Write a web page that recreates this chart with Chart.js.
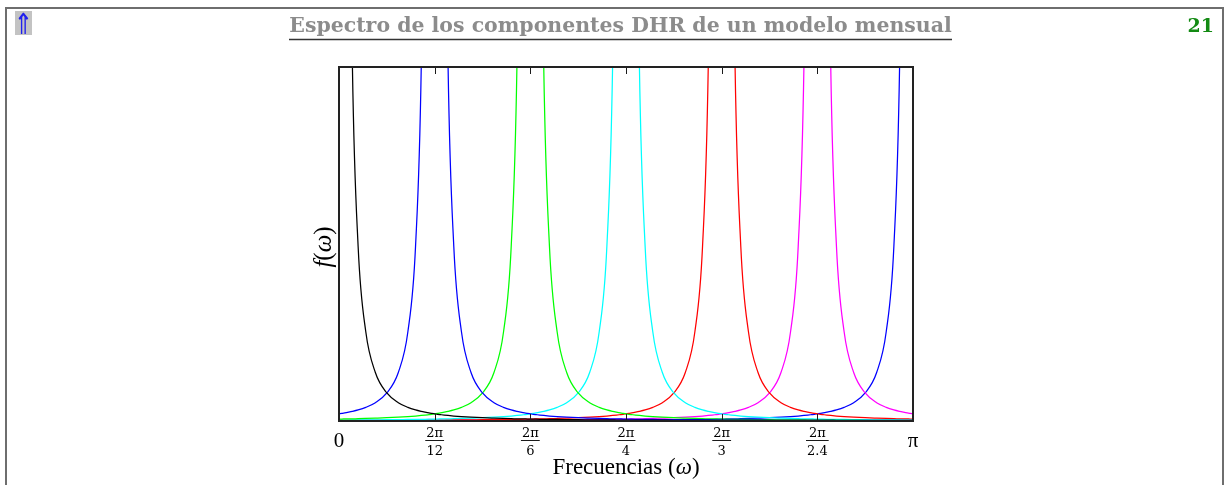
<!DOCTYPE html>
<html>
<head>
<meta charset="utf-8">
<script src="https://cdn.jsdelivr.net/npm/chart.js@4.4.1/dist/chart.umd.min.js"></script>
<style>
  html, body { margin: 0; padding: 0; background: #fff; overflow: hidden; }
  #wrap { position: relative; width: 1226px; height: 485px; }
</style>
</head>
<body>
<div id="wrap"><canvas id="spectro" width="1226" height="485"></canvas></div>
<script>
// frequency in units of 2pi/12 (0 .. 6 = pi)
var freq = [
  0, 0.03, 0.06, 0.1, 0.14, 0.2, 0.28, 0.38, 0.5, 0.62, 0.72, 0.8, 0.86, 0.9, 0.94, 0.97,
  1, 1.03, 1.06, 1.1, 1.14, 1.2, 1.28, 1.38, 1.5, 1.62, 1.72, 1.8, 1.86, 1.9, 1.94, 1.97,
  2, 2.03, 2.06, 2.1, 2.14, 2.2, 2.28, 2.38, 2.5, 2.62, 2.72, 2.8, 2.86, 2.9, 2.94, 2.97,
  3, 3.03, 3.06, 3.1, 3.14, 3.2, 3.28, 3.38, 3.5, 3.62, 3.72, 3.8, 3.86, 3.9, 3.94, 3.97,
  4, 4.03, 4.06, 4.1, 4.14, 4.2, 4.28, 4.38, 4.5, 4.62, 4.72, 4.8, 4.86, 4.9, 4.94, 4.97,
  5, 5.03, 5.06, 5.1, 5.14, 5.2, 5.28, 5.38, 5.5, 5.62, 5.72, 5.8, 5.86, 5.9, 5.94, 5.97,
  6
];

// f(w), % of plot height (values above 100 run off the top)
var trendSpec = [
  5000, 2200, 547, 197, 100.5, 49.3, 25.2, 13.7, 7.92, 5.17, 3.85, 3.12, 2.71, 2.48, 2.27, 2.14,
  2.02, 1.90, 1.80, 1.67, 1.56, 1.41, 1.25, 1.08, 0.92, 0.80, 0.71, 0.65, 0.62, 0.59, 0.57, 0.56,
  0.54, 0.53, 0.51, 0.49, 0.48, 0.46, 0.43, 0.40, 0.36, 0.34, 0.32, 0.30, 0.29, 0.28, 0.28, 0.27,
  0.27, 0.27, 0.26, 0.26, 0.25, 0.24, 0.24, 0.23, 0.21, 0.20, 0.20, 0.19, 0.19, 0.19, 0.18, 0.18,
  0.18, 0.18, 0.18, 0.17, 0.17, 0.17, 0.17, 0.16, 0.16, 0.15, 0.15, 0.15, 0.15, 0.15, 0.15, 0.15,
  0.15, 0.15, 0.15, 0.15, 0.15, 0.14, 0.14, 0.14, 0.14, 0.14, 0.14, 0.14, 0.14, 0.14, 0.14, 0.14,
  0.14
];
var spec12 = [
  2.02, 2.14, 2.27, 2.48, 2.71, 3.12, 3.85, 5.17, 7.92, 13.7, 25.2, 49.3, 100.5, 197, 547, 2200,
  5000, 2200, 547, 197, 100.5, 49.3, 25.2, 13.7, 7.92, 5.17, 3.85, 3.12, 2.71, 2.48, 2.27, 2.14,
  2.02, 1.90, 1.80, 1.67, 1.56, 1.41, 1.25, 1.08, 0.92, 0.80, 0.71, 0.65, 0.62, 0.59, 0.57, 0.56,
  0.54, 0.53, 0.51, 0.49, 0.48, 0.46, 0.43, 0.40, 0.36, 0.34, 0.32, 0.30, 0.29, 0.28, 0.28, 0.27,
  0.27, 0.27, 0.26, 0.26, 0.25, 0.24, 0.24, 0.23, 0.21, 0.20, 0.20, 0.19, 0.19, 0.19, 0.18, 0.18,
  0.18, 0.18, 0.18, 0.17, 0.17, 0.17, 0.17, 0.16, 0.16, 0.15, 0.15, 0.15, 0.15, 0.15, 0.15, 0.15,
  0.15
];
var spec6 = [
  0.54, 0.56, 0.57, 0.59, 0.62, 0.65, 0.71, 0.80, 0.92, 1.08, 1.25, 1.41, 1.56, 1.67, 1.80, 1.90,
  2.02, 2.14, 2.27, 2.48, 2.71, 3.12, 3.85, 5.17, 7.92, 13.7, 25.2, 49.3, 100.5, 197, 547, 2200,
  5000, 2200, 547, 197, 100.5, 49.3, 25.2, 13.7, 7.92, 5.17, 3.85, 3.12, 2.71, 2.48, 2.27, 2.14,
  2.02, 1.90, 1.80, 1.67, 1.56, 1.41, 1.25, 1.08, 0.92, 0.80, 0.71, 0.65, 0.62, 0.59, 0.57, 0.56,
  0.54, 0.53, 0.51, 0.49, 0.48, 0.46, 0.43, 0.40, 0.36, 0.34, 0.32, 0.30, 0.29, 0.28, 0.28, 0.27,
  0.27, 0.27, 0.26, 0.26, 0.25, 0.24, 0.24, 0.23, 0.21, 0.20, 0.20, 0.19, 0.19, 0.19, 0.18, 0.18,
  0.18
];
var spec4 = [
  0.27, 0.27, 0.28, 0.28, 0.29, 0.30, 0.32, 0.34, 0.36, 0.40, 0.43, 0.46, 0.48, 0.49, 0.51, 0.53,
  0.54, 0.56, 0.57, 0.59, 0.62, 0.65, 0.71, 0.80, 0.92, 1.08, 1.25, 1.41, 1.56, 1.67, 1.80, 1.90,
  2.02, 2.14, 2.27, 2.48, 2.71, 3.12, 3.85, 5.17, 7.92, 13.7, 25.2, 49.3, 100.5, 197, 547, 2200,
  5000, 2200, 547, 197, 100.5, 49.3, 25.2, 13.7, 7.92, 5.17, 3.85, 3.12, 2.71, 2.48, 2.27, 2.14,
  2.02, 1.90, 1.80, 1.67, 1.56, 1.41, 1.25, 1.08, 0.92, 0.80, 0.71, 0.65, 0.62, 0.59, 0.57, 0.56,
  0.54, 0.53, 0.51, 0.49, 0.48, 0.46, 0.43, 0.40, 0.36, 0.34, 0.32, 0.30, 0.29, 0.28, 0.28, 0.27,
  0.27
];
var spec3 = [
  0.18, 0.18, 0.18, 0.19, 0.19, 0.19, 0.20, 0.20, 0.21, 0.23, 0.24, 0.24, 0.25, 0.26, 0.26, 0.27,
  0.27, 0.27, 0.28, 0.28, 0.29, 0.30, 0.32, 0.34, 0.36, 0.40, 0.43, 0.46, 0.48, 0.49, 0.51, 0.53,
  0.54, 0.56, 0.57, 0.59, 0.62, 0.65, 0.71, 0.80, 0.92, 1.08, 1.25, 1.41, 1.56, 1.67, 1.80, 1.90,
  2.02, 2.14, 2.27, 2.48, 2.71, 3.12, 3.85, 5.17, 7.92, 13.7, 25.2, 49.3, 100.5, 197, 547, 2200,
  5000, 2200, 547, 197, 100.5, 49.3, 25.2, 13.7, 7.92, 5.17, 3.85, 3.12, 2.71, 2.48, 2.27, 2.14,
  2.02, 1.90, 1.80, 1.67, 1.56, 1.41, 1.25, 1.08, 0.92, 0.80, 0.71, 0.65, 0.62, 0.59, 0.57, 0.56,
  0.54
];
var spec24 = [
  0.15, 0.15, 0.15, 0.15, 0.15, 0.15, 0.15, 0.15, 0.16, 0.16, 0.17, 0.17, 0.17, 0.17, 0.18, 0.18,
  0.18, 0.18, 0.18, 0.19, 0.19, 0.19, 0.20, 0.20, 0.21, 0.23, 0.24, 0.24, 0.25, 0.26, 0.26, 0.27,
  0.27, 0.27, 0.28, 0.28, 0.29, 0.30, 0.32, 0.34, 0.36, 0.40, 0.43, 0.46, 0.48, 0.49, 0.51, 0.53,
  0.54, 0.56, 0.57, 0.59, 0.62, 0.65, 0.71, 0.80, 0.92, 1.08, 1.25, 1.41, 1.56, 1.67, 1.80, 1.90,
  2.02, 2.14, 2.27, 2.48, 2.71, 3.12, 3.85, 5.17, 7.92, 13.7, 25.2, 49.3, 100.5, 197, 547, 2200,
  5000, 2200, 547, 197, 100.5, 49.3, 25.2, 13.7, 7.92, 5.17, 3.85, 3.12, 2.71, 2.48, 2.27, 2.14,
  2.02
];
var spec2 = [
  0.14, 0.14, 0.14, 0.14, 0.14, 0.14, 0.14, 0.14, 0.14, 0.14, 0.14, 0.14, 0.15, 0.15, 0.15, 0.15,
  0.15, 0.15, 0.15, 0.15, 0.15, 0.15, 0.15, 0.15, 0.16, 0.16, 0.17, 0.17, 0.17, 0.17, 0.18, 0.18,
  0.18, 0.18, 0.18, 0.19, 0.19, 0.19, 0.20, 0.20, 0.21, 0.23, 0.24, 0.24, 0.25, 0.26, 0.26, 0.27,
  0.27, 0.27, 0.28, 0.28, 0.29, 0.30, 0.32, 0.34, 0.36, 0.40, 0.43, 0.46, 0.48, 0.49, 0.51, 0.53,
  0.54, 0.56, 0.57, 0.59, 0.62, 0.65, 0.71, 0.80, 0.92, 1.08, 1.25, 1.41, 1.56, 1.67, 1.80, 1.90,
  2.02, 2.14, 2.27, 2.48, 2.71, 3.12, 3.85, 5.17, 7.92, 13.7, 25.2, 49.3, 100.5, 197, 547, 2200,
  5000
];

var tickVals = [0, 1, 2, 3, 4, 5, 6];
var tickNum = ["0", "2\u03c0", "2\u03c0", "2\u03c0", "2\u03c0", "2\u03c0", "\u03c0"];
var tickDen = ["", "12", "6", "4", "3", "2.4", ""];

var series = [
  { name: "tendencia", vals: trendSpec, color: "#000000" },
  { name: "12", vals: spec12, color: "#0000ff" },
  { name: "6", vals: spec6, color: "#00ff00" },
  { name: "4", vals: spec4, color: "#00ffff" },
  { name: "3", vals: spec3, color: "#ff0000" },
  { name: "2.4", vals: spec24, color: "#ff00ff" },
  { name: "2", vals: spec2, color: "#0000ff" }
];

var SERIF = '"Liberation Serif", "DejaVu Serif", serif';
var WIDE = '"DejaVu Serif", "Liberation Serif", serif';

function drawRuns(ctx, runs, cx, y) {
  var total = 0, i;
  for (i = 0; i < runs.length; i++) {
    ctx.font = runs[i][1];
    runs[i].w = ctx.measureText(runs[i][0]).width;
    total += runs[i].w;
  }
  var x = cx - total / 2;
  ctx.textAlign = "left";
  for (i = 0; i < runs.length; i++) {
    ctx.font = runs[i][1];
    ctx.fillText(runs[i][0], x, y);
    x += runs[i].w;
  }
}

var pagePlugin = {
  id: "pagePlugin",
  afterDatasetsDraw: function (chart) {
    var ctx = chart.ctx, a = chart.chartArea, xs = chart.scales.x;
    ctx.save();
    ctx.strokeStyle = "#1a1a1a";
    ctx.lineWidth = 1;
    tickVals.forEach(function (v, i) {
      if (i === 0 || i === tickVals.length - 1) return;
      var x = Math.round(xs.getPixelForValue(v)) + 0.5;
      ctx.beginPath();
      ctx.moveTo(x, a.bottom); ctx.lineTo(x, a.bottom - 7);
      ctx.moveTo(x, a.top); ctx.lineTo(x, a.top + 7);
      ctx.stroke();
    });
    ctx.lineWidth = 2;
    ctx.strokeStyle = "#222";
    ctx.strokeRect(a.left, a.top, a.right - a.left, a.bottom - a.top);
    ctx.restore();
  },
  afterDraw: function (chart) {
    var ctx = chart.ctx, a = chart.chartArea, xs = chart.scales.x;
    ctx.save();

    // page frame
    ctx.strokeStyle = "#6e6e6e";
    ctx.lineWidth = 2;
    ctx.beginPath();
    ctx.moveTo(6, 485); ctx.lineTo(6, 8); ctx.lineTo(1223, 8); ctx.lineTo(1223, 485);
    ctx.stroke();

    // back arrow
    ctx.fillStyle = "#c3c3c3";
    ctx.fillRect(15, 11, 17, 24);
    ctx.fillStyle = "#2020ee";
    ctx.font = '29px "DejaVu Sans", sans-serif';
    ctx.textAlign = "center";
    ctx.textBaseline = "alphabetic";
    ctx.save();
    ctx.translate(23.5, 34);
    ctx.scale(0.8, 1);
    ctx.fillText("\u21d1", 0, 0);
    ctx.restore();

    // title
    var title = "Espectro de los componentes DHR de un modelo mensual";
    ctx.font = "bold 20px " + WIDE;
    var tw = ctx.measureText(title).width;
    var fs = 20 * 663 / tw;
    ctx.font = "bold " + fs.toFixed(2) + "px " + WIDE;
    ctx.fillStyle = "#8c8c8c";
    ctx.textAlign = "center";
    ctx.fillText(title, 620.5, 32);
    ctx.strokeStyle = "#333";
    ctx.lineWidth = 1.5;
    ctx.beginPath();
    ctx.moveTo(289, 39.5); ctx.lineTo(952, 39.5);
    ctx.stroke();

    // page number
    ctx.fillStyle = "#138a13";
    ctx.font = "bold 19px " + WIDE;
    ctx.textAlign = "right";
    ctx.fillText("21", 1214, 32);

    // tick labels
    ctx.fillStyle = "#000";
    ctx.textAlign = "center";
    tickVals.forEach(function (v, i) {
      var x = xs.getPixelForValue(v);
      if (tickDen[i] === "") {
        ctx.font = "21px " + SERIF;
        ctx.fillText(tickNum[i], x, 447);
      } else {
        ctx.font = "13px " + WIDE;
        ctx.fillText(tickNum[i], x, 437);
        var w = Math.max(ctx.measureText(tickNum[i]).width, ctx.measureText(tickDen[i]).width) + 2;
        ctx.fillText(tickDen[i], x, 455);
        ctx.fillRect(x - w / 2, 440, w, 0.9);
      }
    });

    // axis titles
    drawRuns(ctx, [["Frecuencias (", "23px " + SERIF], ["\u03c9", "italic 23px " + SERIF], [")", "23px " + SERIF]],
      (a.left + a.right) / 2, 474);
    ctx.save();
    ctx.translate(331, (a.top + a.bottom) / 2 + 3);
    ctx.rotate(-Math.PI / 2);
    drawRuns(ctx, [["f", "italic 25px " + SERIF], ["(", "25px " + SERIF], ["\u03c9", "italic 25px " + SERIF], [")", "25px " + SERIF]], 0, 0);
    ctx.restore();

    ctx.restore();
  }
};

new Chart(document.getElementById("spectro"), {
  type: "line",
  data: {
    datasets: series.map(function (s) {
      return {
        label: s.name,
        data: freq.map(function (f, i) { return { x: f, y: s.vals[i] }; }),
        borderColor: s.color,
        backgroundColor: s.color,
        borderWidth: 1.25,
        pointRadius: 0,
        fill: false,
        cubicInterpolationMode: "monotone"
      };
    })
  },
  options: {
    responsive: false,
    animation: false,
    devicePixelRatio: 1,
    events: [],
    layout: { padding: { left: 339, right: 313, top: 67, bottom: 64 } },
    plugins: { legend: { display: false }, tooltip: { enabled: false } },
    scales: {
      x: { type: "linear", min: 0, max: 6, display: false },
      y: { min: 0, max: 100, display: false }
    }
  },
  plugins: [pagePlugin]
});
</script>
</body>
</html>
